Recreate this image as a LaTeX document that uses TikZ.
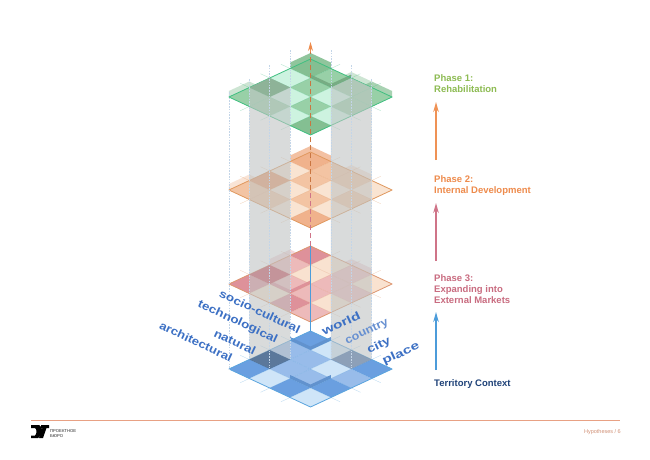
\documentclass[tikz,border=0pt]{standalone}
\usepackage{fontspec}
\setmainfont{Liberation Sans}
\usetikzlibrary{arrows.meta}
\definecolor{gL}{HTML}{CDF3E0}\definecolor{gM}{HTML}{98D0A7}\definecolor{gD}{HTML}{84BF92}\definecolor{gE}{HTML}{3FBF80}
\definecolor{oL}{HTML}{F9E4D2}\definecolor{oM}{HTML}{F3C4A3}\definecolor{oD}{HTML}{F0B28C}\definecolor{oE}{HTML}{E0985E}
\definecolor{rL}{HTML}{F9E2D0}\definecolor{rM}{HTML}{EDBABA}\definecolor{rD}{HTML}{DE919A}\definecolor{rE}{HTML}{DD9670}
\definecolor{bL}{HTML}{CFE5F8}\definecolor{bM}{HTML}{98BCEA}\definecolor{bD}{HTML}{6A9FE0}\definecolor{bE}{HTML}{5AA4DE}
\definecolor{bandc}{HTML}{C0C4C4}\definecolor{vl}{HTML}{C3D5E8}\definecolor{lab}{HTML}{3C70C4}
\definecolor{ph1}{HTML}{8DBB52}\definecolor{ph2}{HTML}{EE8B4C}\definecolor{ph3}{HTML}{C96C80}\definecolor{ph0}{HTML}{1F4278}
\definecolor{ar1}{HTML}{EF9255}\definecolor{ar2}{HTML}{CF7488}\definecolor{ar3}{HTML}{4C9CDA}\definecolor{foot}{HTML}{E8A184}
\newcommand\cp[3]{({310.5+((#2)-(#3))*20.4},{#1+((#2)+(#3))*9.5})}
\newcommand\cq[4]{({310.5+((#2)-(#3))*20.4},{#1+((#2)+(#3))*9.5-#4})}
\newcommand\cellf[4]{\fill[#4] \cp{#1}{#2}{#3} -- \cp{#1}{#2+1}{#3} -- \cp{#1}{#2+1}{#3+1} -- \cp{#1}{#2}{#3+1} -- cycle;}
\newcommand\extr[5]{\fill[#4,opacity=#5] \cp{#1}{#2}{#3+1} -- \cq{#1}{#2}{#3+1}{6} -- \cq{#1}{#2}{#3}{6} -- \cq{#1}{#2+1}{#3}{6} -- \cp{#1}{#2+1}{#3} -- \cp{#1}{#2}{#3} -- cycle;}
\newcommand\front[4]{\fill[#4] \cp{#1}{#2}{#3+1} -- \cp{#1}{#2+1}{#3+1} -- \cp{#1}{#2+1}{#3} -- \cq{#1}{#2+1}{#3}{3.5} -- \cq{#1}{#2+1}{#3+1}{3.5} -- \cq{#1}{#2}{#3+1}{3.5} -- cycle;}
\newcommand\layer[3]{%
  \foreach \uu/\vv/\cc in {#2} {\cellf{#1}{\uu}{\vv}{fill=#3\cc}}
}
\newcommand\gridlines[2]{%
  \foreach \ii in {1,2,3} {
    \draw[#2,opacity=.4,line width=.35pt] \cp{#1}{\ii}{-0.45} -- \cp{#1}{\ii}{4.45};
    \draw[#2,opacity=.4,line width=.35pt] \cp{#1}{-0.45}{\ii} -- \cp{#1}{4.45}{\ii};
  }
}
\newcommand\lt[2]{\scalebox{#1}[.84]{#2}}
\tikzset{
  planeedge/.style={line width=.8pt,line join=round},
  lbl/.style={font=\fontsize{13.4}{14}\selectfont\bfseries,text=lab,inner sep=0pt},
  lbllight/.style={font=\fontsize{13.4}{14}\selectfont\bfseries,text=lab!78,inner sep=0pt},
  phase/.style={font=\fontsize{9.5}{11}\selectfont\bfseries,align=left,anchor=north west,inner sep=0pt},
  phasearrow/.style={line width=1.5pt,-{Stealth[length=10pt,width=5.5pt]}},
  guide/.style={vl,line width=.6pt,dash pattern=on 1.6pt off 1.2pt},
  bandfill/.style={fill=bandc,opacity=.6},
}
\begin{document}
\begin{tikzpicture}[x=1pt,y=-1pt]
\useasboundingbox (0,0) rectangle (650,459);
\fill[white] (0,0) rectangle (650,459);

% --- bottom layer (Territory Context)
\def\T{331}
\layer{\T}{0/0/D,1/0/L,0/1/M,2/0/M,1/1/M,0/2/D,3/0/D,2/1/L,1/2/M,0/3/D,3/1/M,2/2/M,1/3/L,3/2/D,2/3/D,3/3/L}{b}
\front{\T}{0}{0}{bD!92!black}
\front{\T}{2}{2}{bD!92!black}
\gridlines{\T}{bE}
\draw[bE,planeedge] \cp{\T}{0}{0} -- \cp{\T}{4}{0} -- \cp{\T}{4}{4} -- \cp{\T}{0}{4} -- cycle;

% --- layer 3
\def\T{246}
\extr{\T}{0}{1}{rD}{.35}
\extr{\T}{2}{0}{rD}{.35}
\layer{\T}{0/0/D,1/0/L,0/1/M,2/0/M,1/1/L,0/2/D,3/0/L,2/1/M,1/2/M,0/3/D,3/1/M,2/2/M,1/3/L,3/2/L,2/3/D,3/3/M}{r}
\front{\T}{1}{2}{rD}
\gridlines{\T}{rE}
\draw[rE,planeedge] \cp{\T}{0}{0} -- \cp{\T}{4}{0} -- \cp{\T}{4}{4} -- \cp{\T}{0}{4} -- cycle;

% --- layer 2
\def\T{152}
\extr{\T}{0}{0}{oD}{.8}
\extr{\T}{0}{3}{oD}{.35}
\extr{\T}{2}{0}{oD}{.35}
\layer{\T}{0/0/D,1/0/M,0/1/L,2/0/M,1/1/M,0/2/D,3/0/L,2/1/L,1/2/L,0/3/M,3/1/M,2/2/M,1/3/M,3/2/L,2/3/L,3/3/D}{o}
\gridlines{\T}{oE}
\draw[oE,planeedge] \cp{\T}{0}{0} -- \cp{\T}{4}{0} -- \cp{\T}{4}{4} -- \cp{\T}{0}{4} -- cycle;

% --- top layer
\def\T{59}
\extr{\T}{0}{0}{gD}{.9}
\extr{\T}{0}{3}{gD}{.4}
\extr{\T}{2}{0}{gD}{.4}
\extr{\T}{3}{0}{gD}{.7}
\layer{\T}{0/0/D,1/0/M,0/1/L,2/0/M,1/1/M,0/2/D,3/0/M,2/1/L,1/2/L,0/3/M,3/1/M,2/2/M,1/3/M,3/2/L,2/3/L,3/3/D}{g}
\front{\T}{1}{0}{gD!90!black}
\gridlines{\T}{gE}
\draw[gE,planeedge] \cp{\T}{0}{0} -- \cp{\T}{4}{0} -- \cp{\T}{4}{4} -- \cp{\T}{0}{4} -- cycle;

% --- grey bands
\fill[bandfill] (249.3,87.5) -- (269.7,78) -- (290.1,87.5) -- (290.1,359) -- (269.7,368.5) -- (249.3,359) -- cycle;
\fill[bandfill] (330.9,87.5) -- (351.3,78) -- (371.7,87.5) -- (371.7,359) -- (351.3,368.5) -- (330.9,359) -- cycle;
% darker crossings of band and dark cells
\cellf{331}{0}{2}{fill=black!40!bD,opacity=.7}
\cellf{331}{2}{0}{fill=black!35!bM,opacity=.45}
\cellf{246}{0}{2}{fill=rD!85!black,opacity=.5}
\cellf{59}{0}{2}{fill=gD!85!black,opacity=.45}
\cellf{152}{0}{2}{fill=oD!85!black,opacity=.25}

% --- vertical guides
\draw[guide] (229.2,92) -- (229.2,370);
\draw[guide] (249.3,79) -- (249.3,359);
\draw[guide] (269.7,65) -- (269.7,368);
\draw[guide] (290.1,50) -- (290.1,359);
\draw[guide] (330.9,50) -- (330.9,359);
\draw[guide] (351.3,65) -- (351.3,368);
\draw[guide] (371.7,79) -- (371.7,359);

% --- centre axis
\coordinate (axisTop) at (310.5,42);
\coordinate (axisA) at (310.5,190);
\coordinate (axisB) at (310.5,246);
\coordinate (axisC) at (310.5,331);
\draw[ph2!85!black,line width=.9pt,dash pattern=on 5pt off 3pt] (axisA) -- (310.5,52);
\draw[ar2,line width=.9pt,dash pattern=on 5pt off 3pt] (axisB) -- (axisA);
\draw[ar3,line width=.8pt] (axisC) -- (axisB);
\draw[ph2,line width=.9pt,-{Stealth[length=9pt,width=5pt]}] (310.5,52) -- (axisTop);

% --- isometric labels
\node[lbl,rotate=-25] (socio) at (260,311.5) {\lt{1}{socio-cultural}};
\node[lbl,rotate=-25] (tech) at (237.5,322) {\lt{1}{technological}};
\node[lbl,rotate=-25] (nat) at (235,342) {\lt{1}{natural}};
\node[lbl,rotate=-25] (arch) at (196,341.5) {\lt{.98}{architectural}};
\node[lbl,rotate=25] (world) at (341,323.5) {\lt{1.15}{world}};
\node[lbllight,rotate=25] (country) at (367,332) {\lt{.94}{country}};
\node[lbl,rotate=25] (city) at (379,346) {\lt{1.05}{city}};
\node[lbl,rotate=25] (place) at (401,354) {\lt{1.15}{place}};

% --- side legend
\node[phase,text=ph1] (p1) at (434,74) {Phase 1:\\Rehabilitation};
\node[phase,text=ph2] (p2) at (434,175) {Phase 2:\\Internal Development};
\node[phase,text=ph3] (p3) at (434,274.5) {Phase 3:\\Expanding into\\External Markets};
\node[phase,text=ph0] (p0) at (434,379) {Territory Context};
\coordinate (a1s) at (436,160); \coordinate (a1e) at (436,102);
\coordinate (a2s) at (436,261); \coordinate (a2e) at (436,203);
\coordinate (a3s) at (436,370); \coordinate (a3e) at (436,312);
\draw[phasearrow,ar1] (a1s) -- (a1e);
\draw[phasearrow,ar2] (a2s) -- (a2e);
\draw[phasearrow,ar3] (a3s) -- (a3e);

% --- footer
\draw[foot,line width=.9pt] (31,420.5) -- (620,420.5);
\fill[black] (31,425) -- (39,425) .. controls (43,426) and (44,435) .. (38,438) -- (31,438) -- (31,435.5) -- (35,435.5) .. controls (37,434) and (37,429) .. (35,428) -- (31,428) -- cycle;
\fill[black] (41,425) -- (49,425) -- (49,428) -- (46.5,428) -- (43,438) -- (39,438) -- (42.5,428) -- (41,428) -- cycle;
\node[font=\fontsize{4.2}{5}\selectfont,anchor=north west,align=left,inner sep=0pt,text=black!85] (logo) at (50,429) {ПРОЕКТНОЕ\\БЮРО};
\node[font=\fontsize{5.5}{6}\selectfont,anchor=east,inner sep=0pt,text=foot!90!black] (pg) at (621,432) {Hypotheses / 6};
\end{tikzpicture}
\end{document}
